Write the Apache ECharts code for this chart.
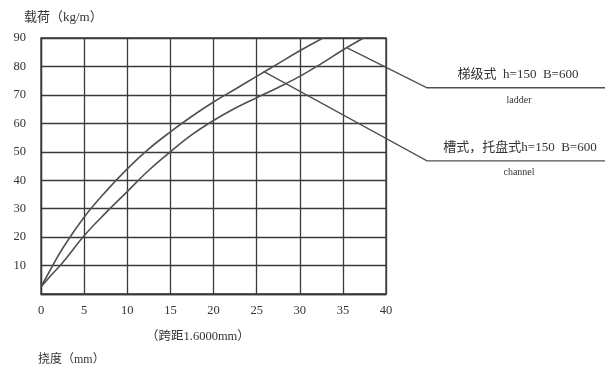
<!DOCTYPE html>
<html>
<head>
<meta charset="utf-8">
<script src="https://cdn.jsdelivr.net/npm/echarts@6/dist/echarts.min.js"></script>
<style>
  html, body { margin: 0; padding: 0; background: #fff; }
  #chart { width: 605px; height: 370px; }
</style>
</head>
<body>
<div id="chart"></div>
<script>
// deflection (mm) vs load (kg/m)
const upperCurve = [[0, 2.5], [1, 8], [2.5, 16], [5, 27], [7.5, 36], [10, 44], [12.5, 51], [15, 57],
  [17.5, 62.5], [20, 67.5], [22.5, 72], [25, 76.5], [27.5, 81], [30, 85.5], [32.7, 90]];
const lowerCurve = [[0, 2.5], [1, 6], [2.5, 11], [5, 20.5], [7.5, 28.5], [10, 36], [12.5, 43.5], [15, 50],
  [17.5, 56], [20, 61], [22.5, 65.3], [25, 69], [27.5, 72.6], [30, 76.5], [32.5, 81], [35, 85.8], [37.4, 90]];

// leader lines (data units, running past the axis to the labels)
const ladderLeader = [[35.5, 86.5], [44.75, 72.5], [65.5, 72.5]];
const channelLeader = [[25.8, 78.3], [44.75, 46.8], [65.5, 46.8]];

const labelLadder = '梯级式  h=150  B=600';
const labelChannel = '槽式，托盘式h=150  B=600';

const serif = '"Liberation Serif", "Noto Sans CJK SC", serif';
const lineColor = '#3a3a3a';

let myChart = echarts.init(document.getElementById('chart'));

myChart.setOption({
  backgroundColor: '#fff',
  animation: false,
  grid: {
    left: 41, right: 219, top: 38, bottom: 76,
    outerBoundsMode: 'none',
    show: true, borderColor: lineColor, borderWidth: 1.3
  },
  xAxis: {
    type: 'value', min: 0, max: 40, interval: 5,
    axisLine: { show: true, lineStyle: { color: lineColor, width: 1.3 } },
    axisTick: { show: false },
    axisLabel: { color: '#333', fontFamily: serif, fontSize: 12.5, margin: 10 },
    splitLine: { show: true, lineStyle: { color: lineColor, width: 1.3 } }
  },
  yAxis: {
    type: 'value', min: 0, max: 90, interval: 10,
    axisLine: { show: true, lineStyle: { color: lineColor, width: 1.3 } },
    axisTick: { show: false },
    axisLabel: {
      color: '#333', fontFamily: serif, fontSize: 12.5, margin: 15,
      formatter: function (v) { return v === 0 ? '' : v; }
    },
    splitLine: { show: true, lineStyle: { color: lineColor, width: 1.3 } }
  },
  series: [
    {
      type: 'line', data: upperCurve, smooth: 0.4, symbol: 'none',
      lineStyle: { color: '#505050', width: 1.6 }
    },
    {
      type: 'line', data: lowerCurve, smooth: 0.4, symbol: 'none',
      lineStyle: { color: '#505050', width: 1.6 }
    }
  ]
});

// leader lines and text as graphics, leader positions taken from the axes
function toPx(pts) {
  return pts.map(function (p) { return myChart.convertToPixel({ gridIndex: 0 }, p); });
}
myChart.setOption({
  graphic: [
    { id: 'yname', type: 'text', left: 24, top: 11,
      style: { text: '载荷（kg/m）', font: '13px ' + serif, fill: '#333' } },
    { id: 'span', type: 'text', left: 146, top: 330,
      style: { text: '（跨距1.6000mm）', font: '12.5px ' + serif, fill: '#333' } },
    { id: 'xname', type: 'text', left: 38, top: 354,
      style: { text: '挠度（mm）', font: '12px ' + serif, fill: '#333' } },
    { id: 'lad1', type: 'text', x: 518, y: 75,
      style: { text: labelLadder, font: '13px ' + serif, fill: '#333', align: 'center', verticalAlign: 'middle' } },
    { id: 'lad2', type: 'text', x: 519, y: 100,
      style: { text: 'ladder', font: '10px ' + serif, fill: '#333', align: 'center', verticalAlign: 'middle' } },
    { id: 'ch1', type: 'text', x: 520, y: 148,
      style: { text: labelChannel, font: '13px ' + serif, fill: '#333', align: 'center', verticalAlign: 'middle' } },
    { id: 'ch2', type: 'text', x: 519, y: 172,
      style: { text: 'channel', font: '10px ' + serif, fill: '#333', align: 'center', verticalAlign: 'middle' } },
    { id: 'ladLine', type: 'polyline', shape: { points: toPx(ladderLeader) }, silent: true,
      style: { stroke: '#505050', lineWidth: 1.4, fill: null } },
    { id: 'chLine', type: 'polyline', shape: { points: toPx(channelLeader) }, silent: true,
      style: { stroke: '#505050', lineWidth: 1.4, fill: null } }
  ]
});
</script>
</body>
</html>
